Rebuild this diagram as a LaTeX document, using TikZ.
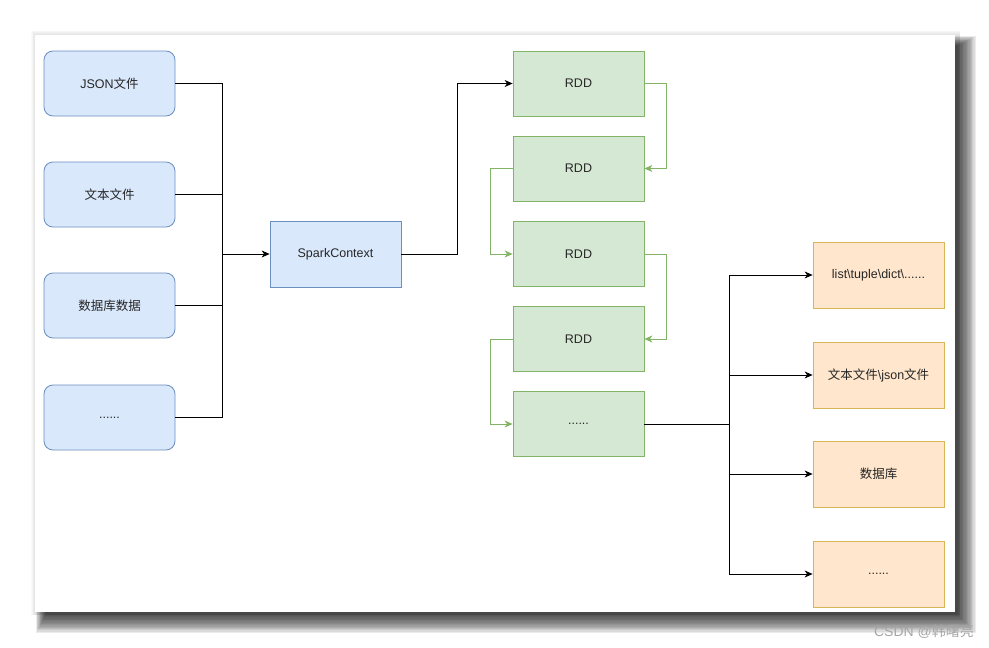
\documentclass[tikz,border=0pt]{standalone}
\usepackage{fontspec}
\setmainfont{Liberation Sans}
\newfontfamily\cjk{Noto Sans CJK SC}
\usetikzlibrary{arrows.meta}
\definecolor{bluefill}{HTML}{DAE8FC}
\definecolor{bluedraw}{HTML}{6C8EBF}
\definecolor{greenfill}{HTML}{D5E8D4}
\definecolor{greendraw}{HTML}{82B366}
\definecolor{orangefill}{HTML}{FFE6CC}
\definecolor{orangedraw}{HTML}{D6B656}
\tikzset{
  box/.style={minimum width=131pt, minimum height=65pt, inner sep=0pt, font=\fontsize{12.5}{14}\selectfont, text=black!85},
  srcbox/.style={box, draw=bluedraw, fill=bluefill, rounded corners=9pt, line width=0.8pt},
  sparkbox/.style={box, draw=bluedraw, fill=bluefill, line width=0.8pt, minimum height=66pt},
  rddbox/.style={box, draw=greendraw, fill=greenfill, line width=0.8pt},
  outbox/.style={box, draw=orangedraw, fill=orangefill, line width=0.8pt, minimum height=66pt},
  conn/.style={draw=black, line width=0.8pt},
  arr/.style={conn, -{Stealth[length=8pt,width=7pt,inset=2.5pt]}},
  gconn/.style={draw=greendraw, line width=0.8pt},
  garr/.style={gconn, -{Stealth[length=8pt,width=7pt,inset=2.5pt]}},
}
\begin{document}
\begin{tikzpicture}[x=1pt,y=-1pt]
\useasboundingbox (0,0) rectangle (989,648);
% faint halo on top/left
\foreach \i in {0,...,5}{
  \fill[black, opacity=0.018] (35-\i*0.8, 35-\i*0.9) rectangle (960, 615);
}
% strong shadow right/bottom
\foreach \i in {0,...,14}{
  \fill[black, opacity=0.075] (36+\i*0.7, 36+\i*0.7) rectangle (976-\i*1.3, 633-\i*1.3);
}
\fill[white] (35,35) rectangle (955,612);
% sources
\node[srcbox] (json) at (109.5,83.5) {JSON{\cjk 文件}};
\node[srcbox] (txt) at (109.5,194.5) {{\cjk 文本文件}};
\node[srcbox] (db) at (109.5,305.5) {{\cjk 数据库数据}};
\node[srcbox] (etc) at (109.5,417.5) {......};
\node[sparkbox] (spark) at (335.5,254) {SparkContext};
% RDDs
\node[rddbox] (r1) at (578.5,83.5) {RDD};
\node[rddbox] (r2) at (578.5,168.5) {RDD};
\node[rddbox] (r3) at (578.5,254) {RDD};
\node[rddbox] (r4) at (578.5,339) {RDD};
\node[rddbox] (r5) at (578.5,424) {......};
% outputs
\node[outbox] (o1) at (878.5,275) {list\textbackslash tuple\textbackslash dict\textbackslash ......};
\node[outbox] (o2) at (878.5,375) {{\cjk 文本文件}\textbackslash json{\cjk 文件}};
\node[outbox] (o3) at (878.5,474) {{\cjk 数据库}};
\node[outbox] (o4) at (878.5,574) {......};
% bus
\coordinate (bus) at (222,254);
\draw[conn] (json.east) -| (bus);
\draw[conn] (txt.east) -| (bus);
\draw[conn] (db.east) -| (bus);
\draw[conn] (etc.east) -| (bus);
\draw[arr] (bus) -- (spark.west);
\draw[arr] (spark.east) -- ++(56,0) |- (r1.west);
% RDD chain
\draw[garr] (r1.east) -- ++(22,0) |- (r2.east);
\draw[garr] (r2.west) -- ++(-22,0) |- (r3.west);
\draw[garr] (r3.east) -- ++(22,0) |- (r4.east);
\draw[garr] (r4.west) -- ++(-22,0) |- (r5.west);
% outputs
\coordinate (hub) at (729,424);
\draw[conn] (r5.east) -- (hub);
\draw[arr] (hub) |- (o1.west);
\draw[arr] (hub) |- (o2.west);
\draw[arr] (hub) |- (o3.west);
\draw[arr] (hub) |- (o4.west);
% watermark
\node[text=black!35, font=\fontsize{14}{16}\selectfont] (wm) at (924,632) {CSDN @{\cjk 韩曙亮}};
\end{tikzpicture}
\end{document}
